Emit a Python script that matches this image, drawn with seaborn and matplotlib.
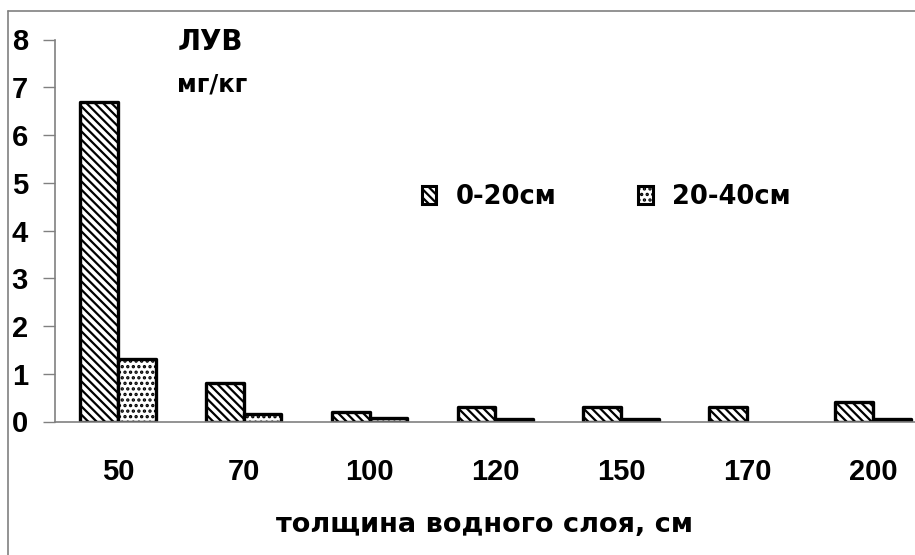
import numpy as np
import pandas as pd
import matplotlib
matplotlib.use("Agg")
import matplotlib.pyplot as plt
from matplotlib.patches import Patch
from matplotlib.lines import Line2D
import seaborn as sns

# Water layer thickness, cm
thickness = ["50", "70", "100", "120", "150", "170", "200"]
# ЛУВ content, mg/kg, by soil depth
layer_0_20 = [6.7, 0.8, 0.2, 0.3, 0.3, 0.3, 0.4]
layer_20_40 = [1.3, 0.15, 0.08, 0.05, 0.05, np.nan, 0.05]
series_names = ["0-20см", "20-40см"]
y_ticks = [0, 1, 2, 3, 4, 5, 6, 7, 8]

df = pd.DataFrame({
    "thickness": thickness * 2,
    "value": layer_0_20 + layer_20_40,
    "layer": [series_names[0]] * len(thickness) + [series_names[1]] * len(thickness),
})

sns.set_theme(style="white")
plt.rcParams["font.family"] = ["DejaVu Sans"]
plt.rcParams["font.weight"] = "bold"
plt.rcParams["text.color"] = "black"
plt.rcParams["axes.labelcolor"] = "black"
plt.rcParams["hatch.linewidth"] = 1.6
plt.rcParams["hatch.color"] = "black"

fig = plt.figure(figsize=(9.15, 5.55), dpi=100)
W, H = 915, 555
ax = fig.add_axes([55 / W, 1 - 421.5 / H, (915 - 55) / W, (421.5 - 39.5) / H])

sns.barplot(data=df, x="thickness", y="value", hue="layer", order=thickness,
            hue_order=series_names, width=0.6, ax=ax, legend=False,
            color="white", saturation=1)

hatches = ["\\\\\\\\", "..."]
for cont, hatch in zip(ax.containers, hatches):
    for bar in cont:
        bar.set_facecolor("white")
        bar.set_edgecolor("black")
        bar.set_linewidth(2.4)
        bar.set_joinstyle("round")
        bar.set_hatch(hatch)

ax.set_xlim(-0.5, 6.335)
ax.set_ylim(0, 8)
ax.set_yticks(y_ticks)

grey = "#808080"
for side in ["top", "right"]:
    ax.spines[side].set_visible(False)
for side in ["left", "bottom"]:
    ax.spines[side].set_color(grey)
    ax.spines[side].set_linewidth(1.2)

ax.tick_params(axis="y", direction="out", length=8.5, width=1, color=grey,
               labelcolor="black", pad=11, left=True)
ax.tick_params(axis="x", length=0, pad=26, labelcolor="black")
for lab in ax.get_xticklabels() + ax.get_yticklabels():
    lab.set_fontfamily(["Liberation Sans", "DejaVu Sans"])
    lab.set_fontsize(21)
    lab.set_fontweight("bold")

ax.set_ylabel("")
ax.set_xlabel("толщина водного слоя, см", fontsize=19.5, fontweight="bold",
              labelpad=19)

ax.text(210 / W, 1 - 42 / H, "ЛУВ", transform=fig.transFigure, ha="center",
        va="center", fontsize=20, fontweight="bold")
ax.text(212 / W, 1 - 84 / H, "мг/кг", transform=fig.transFigure, ha="center",
        va="center", fontsize=17.5, fontweight="bold")

handles = [Patch(facecolor="white", edgecolor="black", linewidth=2.2, hatch=h)
           for h in hatches]
leg = ax.legend(handles, series_names, loc="center left",
                bbox_to_anchor=(422 / W, 1 - 197 / H),
                bbox_transform=fig.transFigure, ncol=2, frameon=False,
                prop={"size": 18.5, "weight": "bold"}, handlelength=0.55,
                handleheight=0.7, handletextpad=0.75, columnspacing=3.2,
                borderpad=0, borderaxespad=0)

# outer chart frame
fig.add_artist(Line2D([7.5 / W, 7.5 / W], [0, 1 - 11 / H],
                      transform=fig.transFigure, color=grey, lw=1.2))
fig.add_artist(Line2D([7.5 / W, 1], [1 - 11 / H, 1 - 11 / H],
                      transform=fig.transFigure, color=grey, lw=1.2))

fig.savefig("out.png", dpi=100)
